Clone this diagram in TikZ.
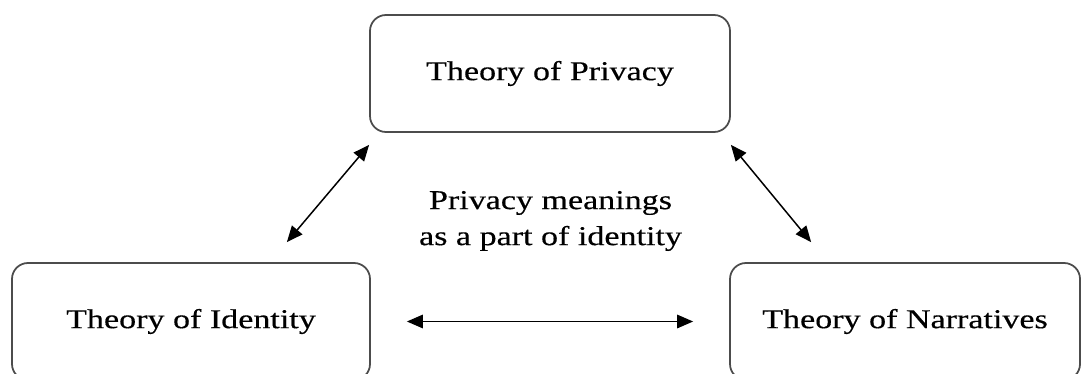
\documentclass[tikz,border=0pt]{standalone}
\usepackage{fontspec}
\setmainfont{Liberation Serif}[FakeStretch=1.25, FakeBold=0.4]
\usetikzlibrary{arrows.meta}

\begin{document}
\begin{tikzpicture}[
  theory/.style = {rectangle, draw=black!70, line width=1pt, rounded corners=0.32cm, minimum height=2.34cm, font=\fontsize{15.5}{20.5}\selectfont},
  link/.style   = {line width=0.85pt, >={Triangle[length=0.32cm,width=0.27cm]}, <->},
  ]
  \useasboundingbox (0,0) rectangle (21.66,-7.48);

  % Theories
  \node (privacy)    at (11.0,-1.47) [theory, minimum width=7.2cm]  {Theory of Privacy};
  \node (identity)   at (3.82,-6.43) [theory, minimum width=7.16cm] {Theory of Identity};
  \node (narratives) at (18.1,-6.43) [theory, minimum width=7.0cm]  {Theory of Narratives};

  % Shared meaning
  \node (meaning)    at (11.01,-4.42) [align=center, font=\fontsize{15.5}{20.5}\selectfont] {Privacy meanings\\as a part of identity};

  % Links between theories
  \draw[link] ([yshift=-0.24cm]privacy.south west) -- ([xshift=-1.68cm, yshift=0.4cm]identity.north east);
  \draw[link] ([yshift=-0.24cm]privacy.south east) -- ([xshift=1.64cm, yshift=0.4cm]narratives.north west);
  \draw[link, shorten <=0.72cm, shorten >=0.72cm] (identity.east) -- (narratives.west);
\end{tikzpicture}
\end{document}
